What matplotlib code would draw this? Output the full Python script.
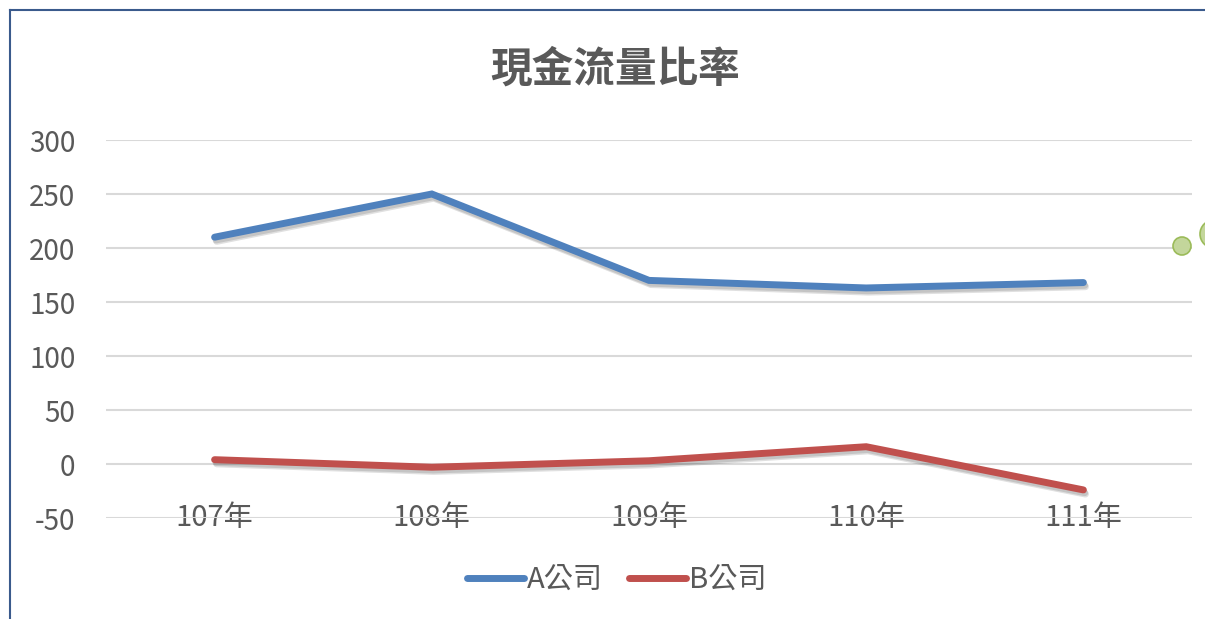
import matplotlib
matplotlib.use("Agg")
import matplotlib.pyplot as plt
import matplotlib.patheffects as pe
from matplotlib.patches import Circle
from matplotlib.lines import Line2D
from matplotlib.transforms import IdentityTransform

plt.rcParams["font.family"] = ["Noto Sans CJK TC", "DejaVu Sans"]

years = ["107年", "108年", "109年", "110年", "111年"]
a_company = [210, 250, 170, 163, 168]
b_company = [4, -3, 3, 16, -24]
yticks = [-50, 0, 50, 100, 150, 200, 250, 300]

W, H = 1205, 619
fig = plt.figure(figsize=(W / 100, H / 100), dpi=100)
ax = fig.add_axes([106 / W, 1 - 518 / H, (1192 - 106) / W, (518 - 140) / H])

shadow = [pe.SimpleLineShadow(offset=(1.5, -3), shadow_color="k", alpha=0.12, rho=0.3),
          pe.SimpleLineShadow(offset=(1, -2), shadow_color="k", alpha=0.12, rho=0.3),
          pe.Normal()]
x = list(range(len(years)))
ax.plot(x, a_company, color="#4F81BD", lw=5, solid_capstyle="round", solid_joinstyle="miter",
        path_effects=shadow, label="A公司", zorder=3)
ax.plot(x, b_company, color="#C0504D", lw=5, solid_capstyle="round", solid_joinstyle="miter",
        path_effects=shadow, label="B公司", zorder=3)

ax.set_xlim(-0.5, len(years) - 0.5)
ax.set_ylim(-50, 300)
ax.set_yticks(yticks)
ax.set_yticklabels([str(v) for v in yticks])
ax.set_xticks(x)
ax.set_xticklabels(years)
ax.yaxis.grid(True, color="#D9D9D9", lw=1.5)
ax.set_axisbelow(True)
for s in ax.spines.values():
    s.set_visible(False)
ax.tick_params(axis="y", length=0, pad=22, labelsize=20, labelcolor="#595959")
ax.tick_params(axis="x", length=0, pad=-11, labelsize=21, labelcolor="#595959")

fig.text(615 / W, 1 - 70 / H, "現金流量比率", ha="center", va="center",
         fontsize=30, fontweight="bold", color="#595959")

handles = [Line2D([0], [0], color="#4F81BD", lw=5, solid_capstyle="round"),
           Line2D([0], [0], color="#C0504D", lw=5, solid_capstyle="round")]
fig.legend(handles, ["A公司", "B公司"], loc="center", bbox_to_anchor=(617 / W, 1 - 580 / H),
           ncol=2, frameon=False, fontsize=21, handlelength=1.95, handletextpad=0.1,
           columnspacing=0.9, labelcolor="#595959")

# chart border (only left/top visible in the crop)
fig.add_artist(Line2D([10 / W, 10 / W], [0, 1 - 10 / H], color="#3A5A8C", lw=1.5))
fig.add_artist(Line2D([10 / W, 1], [1 - 10 / H, 1 - 10 / H], color="#3A5A8C", lw=1.5))

# green circles peeking in from the right edge
for cx, cy, r in [(1182, 246, 9), (1214, 234, 14)]:
    fig.add_artist(Circle((cx, H - cy), r, transform=IdentityTransform(),
                          facecolor="#C3D69B", edgecolor="#9BBB59", lw=1.2))

fig.savefig("out.png", dpi=100)
